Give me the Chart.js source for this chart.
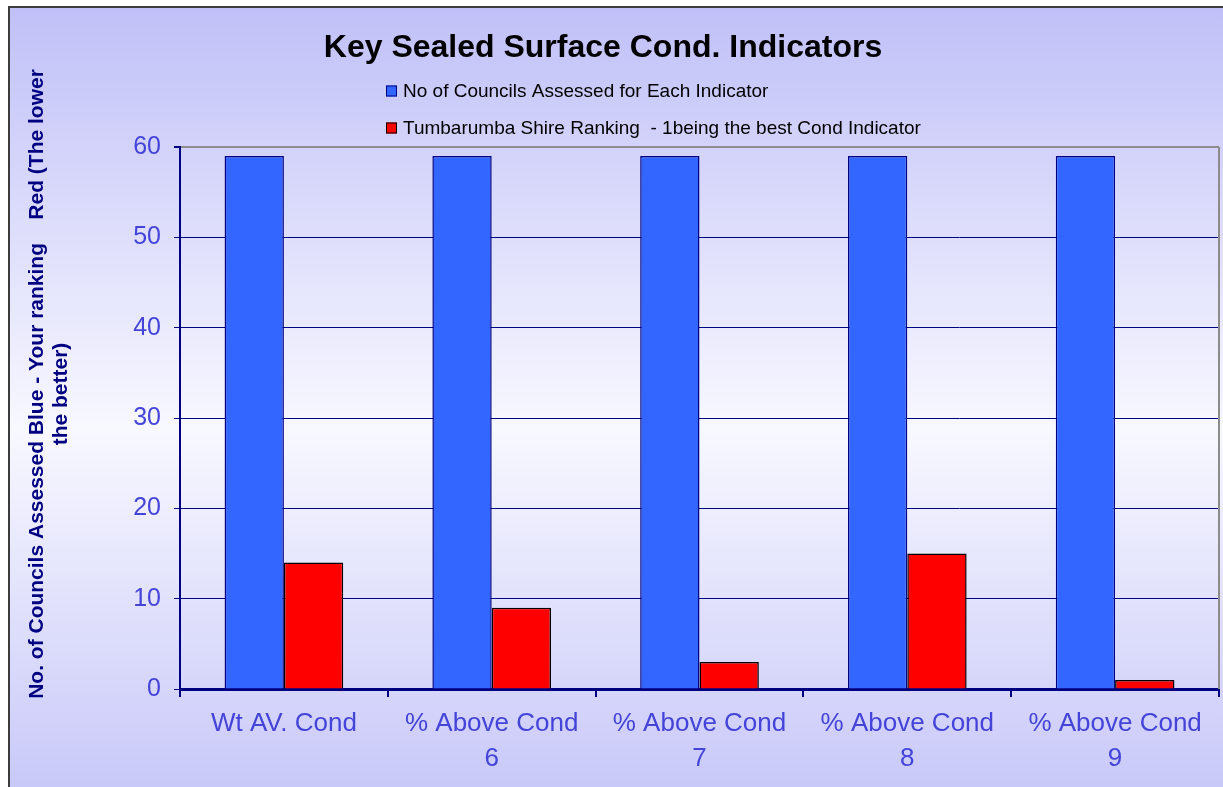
<!DOCTYPE html>
<html>
<head>
<meta charset="utf-8">
<title>Key Sealed Surface Cond. Indicators</title>
<script src="https://cdn.jsdelivr.net/npm/chart.js@4.4.1/dist/chart.umd.min.js"></script>
<style>
  html, body { margin: 0; padding: 0; background: #ffffff; }
  #wrap { width: 1223px; height: 787px; }
</style>
</head>
<body>
<div id="wrap"><canvas id="chart" width="1223" height="787"></canvas></div>
<script>
// Indicator categories (multi-line labels)
const categories = [
  ['Wt AV. Cond'],
  ['% Above Cond', '6'],
  ['% Above Cond', '7'],
  ['% Above Cond', '8'],
  ['% Above Cond', '9']
];
// Blue series: councils assessed per indicator
const councilsAssessed = [59, 59, 59, 59, 59];
// Red series: shire ranking per indicator (1 = best)
const shireRanking = [14, 9, 3, 15, 1];
const seriesNames = [
  'No of Councils Assessed for Each Indicator',
  'Tumbarumba Shire Ranking  - 1being the best Cond Indicator'
];
const yTickValues = [0, 10, 20, 30, 40, 50, 60];
const chartTitle = 'Key Sealed Surface Cond. Indicators';
const yTitleLines = [
  'No. of Councils Assessed Blue - Your ranking    Red (The lower',
  'the better)'
];

const NAVY = '#000080';
const TICK_TEXT = '#4444D8';
const FONT = "'Liberation Sans', Arial, sans-serif";

// Gradient panel with its outer frame
const panelBackground = {
  id: 'panelBackground',
  beforeDraw(chart) {
    const { ctx, width, height } = chart;
    ctx.save();
    ctx.fillStyle = '#ffffff';
    ctx.fillRect(0, 0, width, height);
    const g = ctx.createLinearGradient(0, 7, 0, 853);
    g.addColorStop(0, '#C0C0F8');
    g.addColorStop(0.5, '#F8F8FF');
    g.addColorStop(1, '#C0C0F8');
    ctx.fillStyle = g;
    ctx.fillRect(9, 7, width, height);
    ctx.strokeStyle = '#3c3c3c';
    ctx.lineWidth = 2;
    ctx.strokeRect(9, 7, width + 20, height + 20);
    ctx.restore();
  }
};

// Grey right edge of the plot area
const plotFrame = {
  id: 'plotFrame',
  beforeDatasetsDraw(chart) {
    const { ctx, chartArea } = chart;
    ctx.save();
    ctx.strokeStyle = '#8c8c8c';
    ctx.lineWidth = 2;
    ctx.beginPath();
    ctx.moveTo(chartArea.right, chartArea.top);
    ctx.lineTo(chartArea.right, chartArea.bottom);
    ctx.stroke();
    ctx.restore();
  }
};

// Heading, stacked legend and rotated y-axis caption
const annotations = {
  id: 'annotations',
  afterDraw(chart) {
    const { ctx } = chart;
    ctx.save();

    // heading
    ctx.fillStyle = '#000000';
    ctx.font = 'bold 32px ' + FONT;
    ctx.textAlign = 'center';
    ctx.textBaseline = 'middle';
    ctx.fillText(chartTitle, 603, 48);

    // legend rows
    const rows = [91, 128];
    chart.data.datasets.forEach((ds, i) => {
      const y = rows[i];
      ctx.fillStyle = ds.backgroundColor;
      ctx.fillRect(386, y - 5.5, 11, 11);
      ctx.strokeStyle = ds.borderColor;
      ctx.lineWidth = 1;
      ctx.strokeRect(386.5, y - 5, 10, 10);
      ctx.fillStyle = '#000000';
      ctx.font = '19px ' + FONT;
      ctx.textBaseline = 'middle';
      ctx.textAlign = 'left';
      ctx.fillText(ds.label, 403, y + 1);
    });

    // y caption
    const spots = [[37, 384], [61, 394]];
    ctx.fillStyle = NAVY;
    ctx.font = 'bold 21px ' + FONT;
    ctx.textAlign = 'center';
    ctx.textBaseline = 'middle';
    yTitleLines.forEach((line, i) => {
      ctx.save();
      ctx.translate(spots[i][0], spots[i][1]);
      ctx.rotate(-Math.PI / 2);
      ctx.fillText(line, 0, 0);
      ctx.restore();
    });
    ctx.restore();
  }
};

new Chart(document.getElementById('chart'), {
  type: 'bar',
  data: {
    labels: categories,
    datasets: [
      {
        label: seriesNames[0],
        data: councilsAssessed,
        backgroundColor: '#3366FF',
        borderColor: NAVY,
        borderWidth: 1.5
      },
      {
        label: seriesNames[1],
        data: shireRanking,
        backgroundColor: '#FF0000',
        borderColor: '#000000',
        borderWidth: 1.5
      }
    ]
  },
  options: {
    responsive: false,
    animation: false,
    categoryPercentage: 0.571,
    barPercentage: 1.0,
    layout: { padding: { left: 9, top: 147, right: 4, bottom: 0 } },
    plugins: {
      legend: { display: false },
      tooltip: { enabled: false },
      title: { display: false }
    },
    scales: {
      x: {
        afterFit(scale) { scale.height = 98; },
        border: { display: true, color: NAVY, width: 3 },
        grid: {
          display: true,
          offset: true,
          drawOnChartArea: false,
          drawTicks: true,
          tickLength: 8,
          color: NAVY,
          tickColor: NAVY,
          lineWidth: 2
        },
        ticks: {
          color: TICK_TEXT,
          font: { family: FONT, size: 26, lineHeight: 1.35 },
          padding: 9,
          maxRotation: 0,
          autoSkip: false
        }
      },
      y: {
        min: 0,
        max: 60,
        afterFit(scale) { scale.width = 171; },
        afterBuildTicks(scale) { scale.ticks = yTickValues.map(v => ({ value: v })); },
        border: { display: true, color: NAVY, width: 2 },
        grid: {
          color: ctx => (ctx.tick && ctx.tick.value === 60 ? '#8c8c8c' : NAVY),
          tickColor: NAVY,
          lineWidth: ctx => (ctx.tick && ctx.tick.value === 60 ? 2 : 1),
          tickLength: 6
        },
        ticks: {
          color: TICK_TEXT,
          font: { family: FONT, size: 25 },
          padding: 13
        }
      }
    }
  },
  plugins: [panelBackground, plotFrame, annotations]
});
</script>
</body>
</html>
